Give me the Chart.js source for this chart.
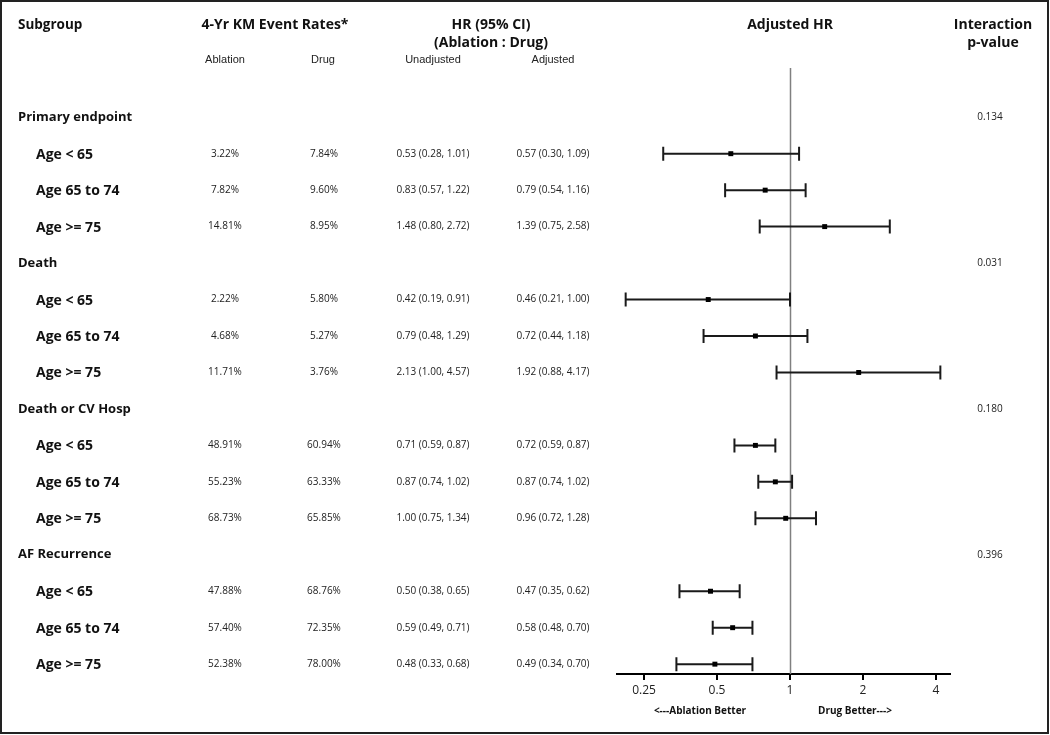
<!DOCTYPE html>
<html>
<head>
<meta charset="utf-8">
<script src="https://cdn.jsdelivr.net/npm/chart.js@4.4.1/dist/chart.umd.min.js"></script>
<style>
  html, body { margin: 0; padding: 0; background: #fff; }
  canvas { display: block; }
</style>
</head>
<body>
<canvas id="forest" width="1050" height="735"></canvas>
<script>
/* Forest plot: HR ajustado por subgrupo de edad */

// --- datos (una fila por línea de la tabla)
const rowLabels = [
  'Primary endpoint', 'Age < 65', 'Age 65 to 74', 'Age >= 75',
  'Death', 'Age < 65', 'Age 65 to 74', 'Age >= 75',
  'Death or CV Hosp', 'Age < 65', 'Age 65 to 74', 'Age >= 75',
  'AF Recurrence', 'Age < 65', 'Age 65 to 74', 'Age >= 75'
];
const isGroup = [1,0,0,0, 1,0,0,0, 1,0,0,0, 1,0,0,0];

const ablationRate = [null, 3.22, 7.82, 14.81, null, 2.22, 4.68, 11.71, null, 48.91, 55.23, 68.73, null, 47.88, 57.40, 52.38];
const drugRate     = [null, 7.84, 9.60, 8.95,  null, 5.80, 5.27, 3.76,  null, 60.94, 63.33, 65.85, null, 68.76, 72.35, 78.00];

const unadjHR = [null, 0.53, 0.83, 1.48, null, 0.42, 0.79, 2.13, null, 0.71, 0.87, 1.00, null, 0.50, 0.59, 0.48];
const unadjLo = [null, 0.28, 0.57, 0.80, null, 0.19, 0.48, 1.00, null, 0.59, 0.74, 0.75, null, 0.38, 0.49, 0.33];
const unadjHi = [null, 1.01, 1.22, 2.72, null, 0.91, 1.29, 4.57, null, 0.87, 1.02, 1.34, null, 0.65, 0.71, 0.68];

const adjHR = [null, 0.57, 0.79, 1.39, null, 0.46, 0.72, 1.92, null, 0.72, 0.87, 0.96, null, 0.47, 0.58, 0.49];
const adjLo = [null, 0.30, 0.54, 0.75, null, 0.21, 0.44, 0.88, null, 0.59, 0.74, 0.72, null, 0.35, 0.48, 0.34];
const adjHi = [null, 1.09, 1.16, 2.58, null, 1.00, 1.18, 4.17, null, 0.87, 1.02, 1.28, null, 0.62, 0.70, 0.70];

const pInteraction = [0.134, null, null, null, 0.031, null, null, null, 0.180, null, null, null, 0.396, null, null, null];

const xTicks = [0.25, 0.5, 1, 2, 4];

// --- helpers
const f2 = v => v.toFixed(2);
const ciText = (hr, lo, hi, i) => `${f2(hr[i])} (${f2(lo[i])}, ${f2(hi[i])})`;

const BOLD = '"Open Sans", "DejaVu Sans", sans-serif';
const SMALL = '"Open Sans", "Liberation Sans", sans-serif';
const ARIAL = '"Liberation Sans", Arial, sans-serif';

function txt(ctx, s, x, y, font, align) {
  ctx.font = font;
  ctx.textAlign = align || 'center';
  ctx.fillText(s, x, y);
}

// Plugin: línea de referencia en HR = 1 y barras de IC
const ciPlugin = {
  id: 'ciBars',
  beforeDatasetsDraw(chart) {
    const { ctx, chartArea, scales } = chart;
    const xs = scales.x, ys = scales.y;
    ctx.save();
    // línea vertical en 1
    const x1 = Math.round(xs.getPixelForValue(1)) + 0.5;
    ctx.strokeStyle = '#808080';
    ctx.lineWidth = 1.5;
    ctx.beginPath();
    ctx.moveTo(x1, chartArea.top);
    ctx.lineTo(x1, chartArea.bottom);
    ctx.stroke();

    // intervalos
    ctx.strokeStyle = '#1a1a1a';
    ctx.lineWidth = 2;
    adjHR.forEach((v, i) => {
      if (v == null) return;
      const y = ys.getPixelForValue(i);
      const a = xs.getPixelForValue(adjLo[i]);
      const b = xs.getPixelForValue(adjHi[i]);
      ctx.beginPath();
      ctx.moveTo(a, y); ctx.lineTo(b, y);
      ctx.moveTo(a, y - 7); ctx.lineTo(a, y + 7);
      ctx.moveTo(b, y - 7); ctx.lineTo(b, y + 7);
      ctx.stroke();
    });
    ctx.restore();
  }
};

// Plugin: tabla de texto alineada con las filas del eje y
const tablePlugin = {
  id: 'tableText',
  afterDraw(chart) {
    const { ctx, scales } = chart;
    const ys = scales.y;
    ctx.save();
    ctx.fillStyle = '#111';
    ctx.textBaseline = 'middle';

    // encabezados
    txt(ctx, 'Subgroup', 18, 25, `bold 13.5px ${BOLD}`, 'left');
    txt(ctx, '4-Yr KM Event Rates*', 275, 25, `bold 14px ${BOLD}`);
    txt(ctx, 'HR (95% CI)', 491, 25, `bold 14px ${BOLD}`);
    txt(ctx, '(Ablation : Drug)', 491, 43, `bold 14px ${BOLD}`);
    txt(ctx, 'Adjusted HR', 790, 25, `bold 14px ${BOLD}`);
    txt(ctx, 'Interaction', 993, 25, `bold 14px ${BOLD}`);
    txt(ctx, 'p-value', 993, 43, `bold 14px ${BOLD}`);

    ctx.fillStyle = '#222';
    txt(ctx, 'Ablation', 225, 60, `11px ${ARIAL}`);
    txt(ctx, 'Drug', 323, 60, `11px ${ARIAL}`);
    txt(ctx, 'Unadjusted', 433, 60, `11px ${ARIAL}`);
    txt(ctx, 'Adjusted', 553, 60, `11px ${ARIAL}`);

    // filas
    rowLabels.forEach((lab, i) => {
      const y = ys.getPixelForValue(i);
      ctx.fillStyle = '#111';
      if (isGroup[i]) txt(ctx, lab, 18, y, `bold 13px ${BOLD}`, 'left');
      else txt(ctx, lab, 36, y + 1, `bold 14px ${BOLD}`, 'left');
      ctx.fillStyle = '#222';
      const f = `10px ${SMALL}`;
      if (ablationRate[i] != null) txt(ctx, f2(ablationRate[i]) + '%', 225, y, f);
      if (drugRate[i] != null) txt(ctx, f2(drugRate[i]) + '%', 324, y, f);
      if (unadjHR[i] != null) txt(ctx, ciText(unadjHR, unadjLo, unadjHi, i), 433, y, f);
      if (adjHR[i] != null) txt(ctx, ciText(adjHR, adjLo, adjHi, i), 553, y, f);
      if (pInteraction[i] != null) txt(ctx, pInteraction[i].toFixed(3), 990, y, f);
    });

    // leyenda bajo el eje
    ctx.fillStyle = '#111';
    txt(ctx, '<---Ablation Better', 700, 711, `bold 10px ${BOLD}`);
    txt(ctx, 'Drug Better--->', 855, 711, `bold 10px ${BOLD}`);

    // marco
    ctx.strokeStyle = '#222';
    ctx.lineWidth = 2;
    ctx.strokeRect(1, 1, 1047, 732);
    ctx.restore();
  }
};

const points = adjHR
  .map((v, i) => (v == null ? null : { x: v, y: i }))
  .filter(p => p);

new Chart(document.getElementById('forest'), {
  type: 'scatter',
  data: {
    datasets: [{
      label: 'Adjusted HR',
      data: points,
      pointStyle: 'rect',
      pointRadius: 3.5,
      pointHoverRadius: 3.5,
      backgroundColor: '#000',
      borderColor: '#000',
      borderWidth: 0
    }]
  },
  options: {
    responsive: false,
    animation: false,
    events: [],
    layout: { padding: { left: 617, right: 100, top: 68, bottom: 21 } },
    plugins: { legend: { display: false }, tooltip: { enabled: false } },
    scales: {
      x: {
        type: 'logarithmic',
        min: 0.1934,
        max: 4.57,
        afterBuildTicks: s => { s.ticks = xTicks.map(v => ({ value: v })); },
        afterFit: s => { s.height = 40; },
        ticks: {
          callback: v => String(v),
          color: '#222',
          font: { size: 12, family: SMALL },
          padding: 3,
          maxRotation: 0,
          autoSkip: false
        },
        grid: { drawOnChartArea: false, drawTicks: true, tickLength: 6, color: '#000', lineWidth: 2 },
        border: { display: true, color: '#000', width: 2 }
      },
      y: {
        type: 'linear',
        reverse: true,
        min: -1.35,
        max: 15.27,
        display: false
      }
    }
  },
  plugins: [ciPlugin, tablePlugin]
});
</script>
</body>
</html>
